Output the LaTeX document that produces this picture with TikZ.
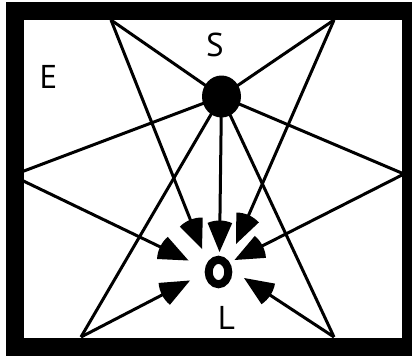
\documentclass[tikz,border=0pt]{standalone}
\usepackage{fontspec}
\setmainfont{PT Sans}
\usetikzlibrary{calc,shapes.geometric}
\tikzset{
  ray/.style={line width=3pt},
  lbl/.style={font=\fontsize{33}{40}\selectfont, inner sep=0pt},
}
\newcommand\sectorhead[2]{%
  \fill let \p1=($(#2)-(#1)$), \n1={atan2(\y1,\x1)} in
    (#2) -- ++(\n1+157:31.5pt) arc[start angle=\n1+157, end angle=\n1+203, radius=31.5pt] -- cycle;}
\begin{document}
\begin{tikzpicture}[x=1pt,y=-1pt]
\useasboundingbox (0,0) rectangle (412,356);
\fill[white] (0,0) rectangle (412,356);
\clip (0,0) rectangle (412,356);
% wall points
\coordinate (wTL) at (111,20);
\coordinate (wTR) at (334,20);
\coordinate (wL) at (12,175.5);
\coordinate (wR) at (404,174);
\coordinate (wBL) at (81,337);
\coordinate (wBR) at (334,337);
% arrow tips near L
\coordinate (hS) at (219.5,252);
\coordinate (hTL) at (202,249);
\coordinate (hTR) at (236,244);
\coordinate (hL) at (188.5,260.5);
\coordinate (hR) at (234.5,260);
\coordinate (hBL) at (190,280.5);
\coordinate (hBR) at (244,278);
% source
\node[ellipse, fill=black, minimum width=39pt, minimum height=42pt, inner sep=0pt] (S) at (221.5,96.5) {};
% rays from S to walls
\foreach \w in {wTL,wTR,wL,wR,wBL,wBR}{\draw[ray] (S.center) -- (\w);}
% rays from walls to L
\draw[ray, shorten >=14pt] (S.center) -- (hS);
\foreach \w/\h in {wTL/hTL,wTR/hTR,wL/hL,wR/hR,wBL/hBL,wBR/hBR}{\draw[ray, shorten >=14pt] (\w) -- (\h);}
% arrowheads
\sectorhead{S}{hS}
\sectorhead{wTL}{hTL}
\sectorhead{wTR}{hTR}
\sectorhead{wL}{hL}
\sectorhead{wR}{hR}
\sectorhead{wBL}{hBL}
\sectorhead{wBR}{hBR}
% L ring
\node[ellipse, draw=black, line width=8pt, minimum width=19.6pt, minimum height=24.4pt, inner sep=0pt] (ring) at (218.5,272) {};
% labels
\node[lbl] (labS) at (215,45) {S};
\node[lbl] (labE) at (48.5,76.5) {E};
\node[lbl] (labL) at (226.5,317.5) {L};
% frame
\draw[line width=18pt] (15,11) rectangle (411,347);
\end{tikzpicture}
\end{document}
